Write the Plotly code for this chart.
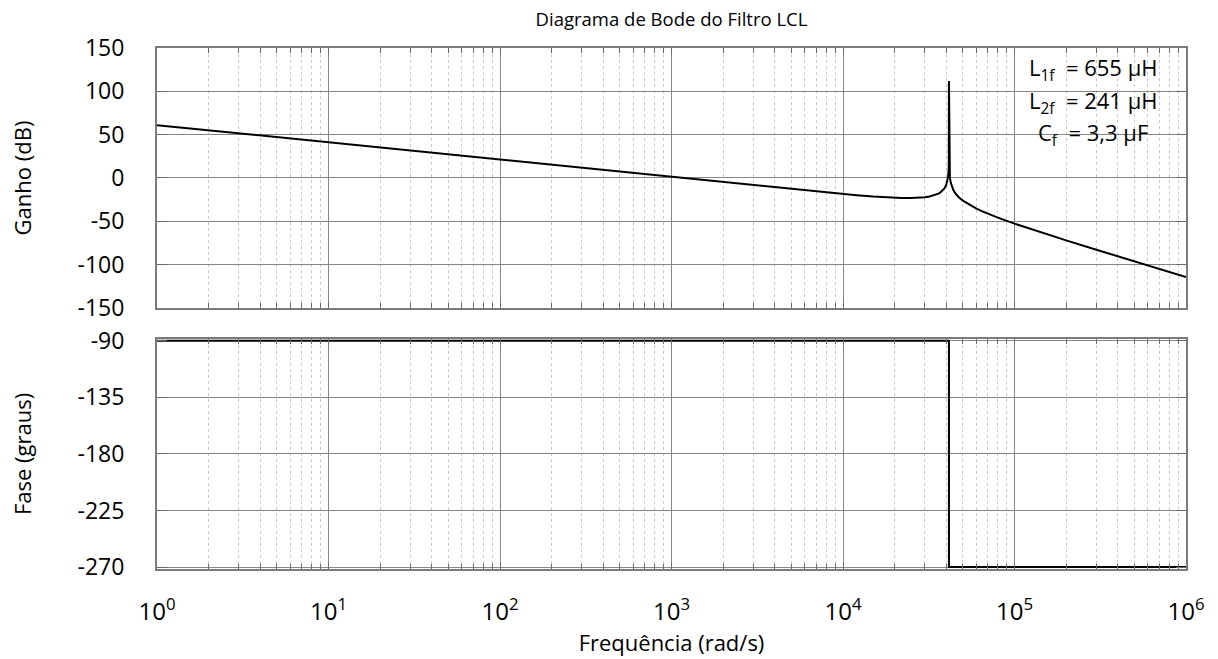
import plotly.graph_objects as go
from plotly.subplots import make_subplots

# Gain curve
freq_gain = [1, 10, 100, 1000, 3000, 5000, 7000, 10000, 12000, 15000, 17000, 20000,
             22000, 25000, 28000, 30000, 32000, 35000, 36000, 37000, 38000, 39000,
             40000, 40500, 41000, 41300, 41400, 41473, 41600, 41800, 42000, 42500,
             43000, 44000, 45000, 47000, 50000, 55000, 60000, 65000, 70000, 80000,
             100000, 120000, 150000, 200000, 300000, 500000, 1000000]
gain_db = [61.0, 41.0, 21.0, 1.0, -8.5, -12.9, -15.7, -18.5, -19.9, -21.4, -22.1, -22.8,
           -23.0, -23.1, -22.7, -22.2, -21.3, -19.1, -18.0, -16.6, -14.8, -12.1,
           -8.0, -4.5, 1.6, 10.2, 17.7, 112.0, 12.8, 4.5, 0.3, -5.6,
           -9.2, -13.9, -17.1, -21.6, -26.2, -31.5, -35.4, -38.6, -41.3, -45.8,
           -52.7, -58.0, -64.2, -72.0, -82.8, -96.2, -114.3]

# Phase curve
freq_phase = [1, 41473, 41473, 1000000]
phase_deg = [-90, -90, -270, -270]

title_text = "Diagrama de Bode do Filtro LCL"
gain_label = "Ganho (dB)"
phase_label = "Fase (graus)"
freq_label = "Frequência (rad/s)"
gain_ticks = [-150, -100, -50, 0, 50, 100, 150]
gain_ticktext = ["-150", "-100", "-50", "0", "50", "100", "150"]
phase_ticks = [-270, -225, -180, -135, -90]
phase_ticktext = ["-270", "-225", "-180", "-135", "-90"]
x_tickvals = [1, 10, 100, 1000, 10000, 100000, 1000000]
x_ticktext = ["10<sup>0</sup>", "10<sup>1</sup>", "10<sup>2</sup>", "10<sup>3</sup>",
              "10<sup>4</sup>", "10<sup>5</sup>", "10<sup>6</sup>"]
x_minor_vals = [m * 10 ** e for e in range(6) for m in range(2, 10)]
param_lines = ["L<sub>1f</sub>  = 655 µH", "L<sub>2f</sub>  = 241 µH", "C<sub>f</sub>  = 3,3 µF"]
param_y = [0.9597, 0.8964, 0.8349]

FONT = "Open Sans"
GRID = "#858585"
MINOR = "#c8c8c8"

fig = make_subplots(rows=2, cols=1, shared_xaxes=True, vertical_spacing=0.06)

fig.add_trace(go.Scatter(x=freq_gain, y=gain_db, mode="lines",
                         line=dict(color="black", width=2), showlegend=False), row=1, col=1)
fig.add_trace(go.Scatter(x=freq_phase, y=phase_deg, mode="lines",
                         line=dict(color="black", width=2), showlegend=False), row=2, col=1)

xcommon = dict(type="log", range=[0, 6], showline=True, linecolor="#7a7a7a", linewidth=2,
               mirror="allticks", ticks="inside", ticklen=6, tickcolor="#6a6a6a",
               showgrid=True, gridcolor=GRID, gridwidth=1, zeroline=False,
               tickvals=x_tickvals,
               minor=dict(tickmode="array", tickvals=x_minor_vals, ticks="inside", ticklen=5,
                          tickcolor="#6a6a6a", showgrid=True,
                          gridcolor=MINOR, griddash="dot", gridwidth=1),
               tickfont=dict(family=FONT, size=24, color="black"))

fig.update_xaxes(**xcommon, showticklabels=False, row=1, col=1)
fig.update_xaxes(**xcommon, showticklabels=True, ticktext=x_ticktext,
                 ticklabelstandoff=20,
                 title=dict(text=freq_label, font=dict(family=FONT, size=22, color="black"),
                            standoff=2), row=2, col=1)

ycommon = dict(showline=True, linecolor="#7a7a7a", linewidth=2, mirror="allticks",
               ticks="inside", ticklen=10, tickcolor="#6a6a6a",
               showgrid=True, gridcolor=GRID, gridwidth=1, zeroline=False,
               tickfont=dict(family=FONT, size=23, color="black"), ticklabelstandoff=26)

fig.update_yaxes(**ycommon, range=[-150, 150], tickvals=gain_ticks, ticktext=gain_ticktext,
                 title=dict(text=gain_label, font=dict(family=FONT, size=22, color="black"),
                            standoff=40), row=1, col=1)
fig.update_yaxes(**ycommon, range=[-271.5, -88.5], tickvals=phase_ticks,
                 ticktext=phase_ticktext,
                 title=dict(text=phase_label, font=dict(family=FONT, size=22, color="black"),
                            standoff=40), row=2, col=1)

annotations = [dict(text=t, xref="paper", yref="paper", x=0.9096, y=yy,
                    xanchor="center", yanchor="middle", align="center", showarrow=False,
                    font=dict(family=FONT, size=22, color="black"))
               for t, yy in zip(param_lines, param_y)]

fig.update_layout(
    width=1218, height=659,
    margin=dict(l=157, r=32, t=48, b=90),
    paper_bgcolor="white", plot_bgcolor="white",
    title=dict(text=title_text, x=0.5, xref="paper", y=0.97,
               yanchor="middle", font=dict(family=FONT, size=18.5, color="black")),
    annotations=annotations,
)
fig.layout.yaxis.domain = [0.501, 1.0]
fig.layout.yaxis2.domain = [0.0, 0.4415]

fig.write_html("out.html")
